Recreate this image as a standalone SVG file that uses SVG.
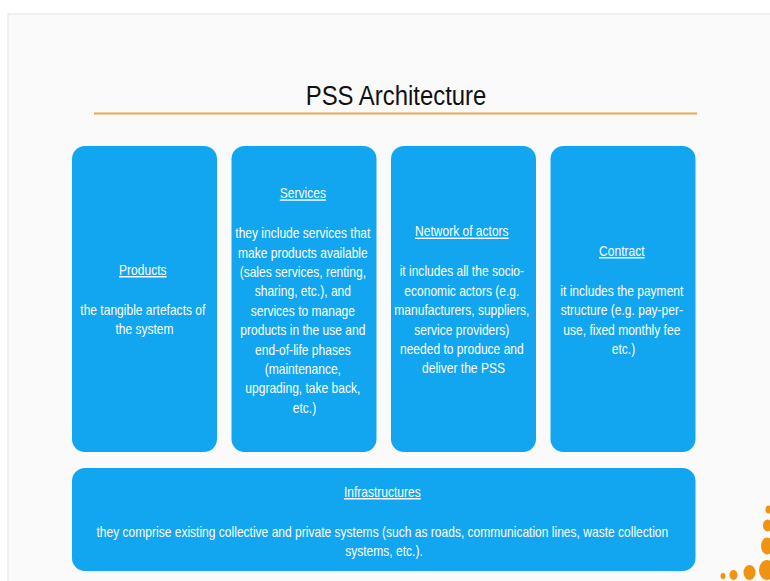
<svg xmlns="http://www.w3.org/2000/svg" width="770" height="581" viewBox="0 0 770 581">
<defs>
<style>
.box{fill:#11a6ef;}
.t{font-family:"Liberation Sans",Arial,sans-serif;font-size:14px;fill:#ffffff;text-anchor:middle;}
.h{text-decoration:underline;}
.dot{fill:#f0930f;}
</style>
</defs>
<rect x="0" y="0" width="770" height="581" fill="#ffffff"/>
<rect x="8" y="14" width="770" height="580" fill="#fafafa" stroke="#e4e4e4" stroke-width="1"/>
<g id="title">
<text transform="translate(396 105) scale(0.854 1)" x="0" y="0" style="font-family:'Liberation Sans',Arial,sans-serif;font-size:28px;fill:#111111;text-anchor:middle">PSS Architecture</text>
<line x1="94" y1="113.5" x2="697" y2="113.5" stroke="#e9a84c" stroke-width="2"/>
</g>
<g id="connectors"></g>
<g id="products">
<rect class="box" x="72" y="146" width="145" height="306" rx="13"/>
<text class="t" transform="translate(144.5 0) scale(0.86 1)">
<tspan class="h" x="0" y="275">Products</tspan>
<tspan x="0" y="315">the tangible artefacts of</tspan>
<tspan x="0" y="334.3">the system</tspan>
</text>
</g>
<g id="services">
<rect class="box" x="231.5" y="146" width="145" height="306" rx="13"/>
<text class="t" transform="translate(304.5 0) scale(0.86 1)">
<tspan class="h" x="0" y="198.3">Services</tspan>
<tspan x="0" y="238.3">they include services that</tspan>
<tspan x="0" y="257.7">make products available</tspan>
<tspan x="0" y="277.1">(sales services, renting,</tspan>
<tspan x="0" y="296.5">sharing, etc.), and</tspan>
<tspan x="0" y="315.9">services to manage</tspan>
<tspan x="0" y="335.3">products in the use and</tspan>
<tspan x="0" y="354.7">end-of-life phases</tspan>
<tspan x="0" y="374.1">(maintenance,</tspan>
<tspan x="0" y="393.5">upgrading, take back,</tspan>
<tspan x="0" y="412.9">etc.)</tspan>
</text>
</g>
<g id="network">
<rect class="box" x="391" y="146" width="145" height="306" rx="13"/>
<text class="t" transform="translate(463.5 0) scale(0.86 1)">
<tspan class="h" x="0" y="236.5">Network of actors</tspan>
<tspan x="0" y="276.5">it includes all the socio-</tspan>
<tspan x="0" y="295.9">economic actors (e.g.</tspan>
<tspan x="0" y="315.3">manufacturers, suppliers,</tspan>
<tspan x="0" y="334.7">service providers)</tspan>
<tspan x="0" y="354.1">needed to produce and</tspan>
<tspan x="0" y="373.5">deliver the PSS</tspan>
</text>
</g>
<g id="contract">
<rect class="box" x="550.5" y="146" width="145" height="306" rx="13"/>
<text class="t" transform="translate(623.5 0) scale(0.86 1)">
<tspan class="h" x="0" y="256">Contract</tspan>
<tspan x="0" y="296">it includes the payment</tspan>
<tspan x="0" y="315.4">structure (e.g. pay-per-</tspan>
<tspan x="0" y="334.8">use, fixed monthly fee</tspan>
<tspan x="0" y="354.2">etc.)</tspan>
</text>
</g>
<g id="infrastructures">
<rect class="box" x="72" y="468" width="623.5" height="103" rx="13"/>
<text class="t" transform="translate(384 0) scale(0.86 1)">
<tspan class="h" x="0" y="497">Infrastructures</tspan>
<tspan x="0" y="537">they comprise existing collective and private systems (such as roads, communication lines, waste collection</tspan>
<tspan x="0" y="556.4">systems, etc.).</tspan>
</text>
</g>
<g id="logo">
<ellipse class="dot" cx="723" cy="576" rx="2.5" ry="3"/>
<ellipse class="dot" cx="733.5" cy="575" rx="4" ry="5"/>
<ellipse class="dot" cx="749.5" cy="572.5" rx="6" ry="7.5"/>
<ellipse class="dot" cx="767" cy="570" rx="8" ry="10"/>
<ellipse class="dot" cx="768.5" cy="509.5" rx="3" ry="4"/>
<ellipse class="dot" cx="767.5" cy="525.5" rx="4.5" ry="6"/>
<ellipse class="dot" cx="767" cy="546" rx="6" ry="8.5"/>
</g>
</svg>
